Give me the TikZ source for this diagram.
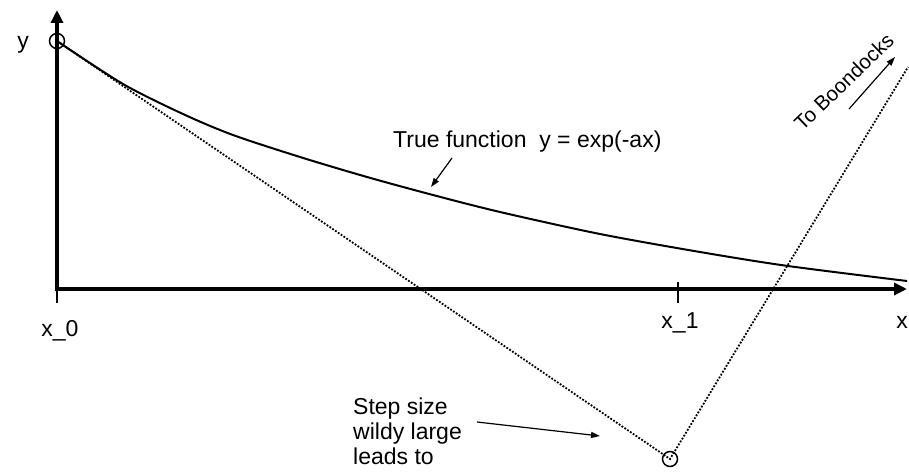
\documentclass[tikz,border=0pt]{standalone}
\usepackage{fontspec}
\setmainfont{Liberation Sans}
\usetikzlibrary{arrows.meta}
\begin{document}
\begin{tikzpicture}[x=1pt,y=-1pt,
  lbl/.style={font=\fontsize{23}{25}\selectfont, inner sep=0pt},
  smalllbl/.style={font=\fontsize{20.5}{22}\selectfont, inner sep=0pt},
  axisline/.style={line width=4pt, -{Triangle[length=13pt,width=12pt]}},
  tickline/.style={line width=2pt},
  curveline/.style={line width=2pt, line join=round},
  dotline/.style={line width=1.8pt, dash pattern=on 1.8pt off 1.6pt},
  ptcircle/.style={circle, draw, line width=1.5pt, minimum size=15pt, inner sep=0pt},
  pointer/.style={line width=1.2pt, -{Triangle[length=9pt,width=6pt]}}
]
\useasboundingbox (0,0) rectangle (909,473);
% axes
\coordinate (O) at (57,289);
\coordinate (Ybot) at (57,291);
\coordinate (Ytop) at (57,10);
\coordinate (Xstart) at (55,289);
\coordinate (Xend) at (907,289);
\draw[axisline] (Ybot) -- (Ytop);
\draw[axisline] (Xstart) -- (Xend);
% ticks
\coordinate (t0a) at (57,289);
\coordinate (t0b) at (57,303);
\coordinate (t1a) at (678,282);
\coordinate (t1b) at (678,303);
\draw[tickline] (t0a) -- (t0b);
\draw[tickline] (t1a) -- (t1b);
% labels
\node[lbl, anchor=base] (ylab) at (23,49) {y};
\node[lbl, anchor=base] (x0lab) at (60,336) {x\_0};
\node[lbl, anchor=base] (x1lab) at (680,328) {x\_1};
\node[lbl, anchor=base] (xlab) at (902,328) {x};
% true function
\draw[curveline] plot[smooth, tension=0.5] coordinates {(57,41) (123,84) (183,114) (233,135) (300,157) (367,177) (433,195) (500,212) (600,234) (700,252) (788,266) (907,281)};
\node[lbl, anchor=base west] (tf) at (393,148) {True function\ \ y = exp(-ax)};
\coordinate (tfA) at (452,158);
\coordinate (tfB) at (431,187);
\draw[pointer] (tfA) -- (tfB);
% Euler points
\node[ptcircle] (P0) at (57,41) {};
\node[ptcircle] (P1) at (670,459) {};
\coordinate (B) at (908,67);
\draw[dotline] (P0.center) -- (P1.center) -- (B);
% boondocks
\node[smalllbl, anchor=base, rotate=44] (tb) at (849,87) {To Boondocks};
\coordinate (tbA) at (849,109);
\coordinate (tbB) at (895,57);
\draw[pointer] (tbA) -- (tbB);
% step size text
\node[lbl, anchor=base west] (s1) at (353,414) {Step size};
\node[lbl, anchor=base west] (s2) at (353,439) {wildy large};
\node[lbl, anchor=base west] (s3) at (353,464) {leads to};
\coordinate (sA) at (477,422);
\coordinate (sB) at (600,436);
\draw[pointer] (sA) -- (sB);
\end{tikzpicture}
\end{document}
